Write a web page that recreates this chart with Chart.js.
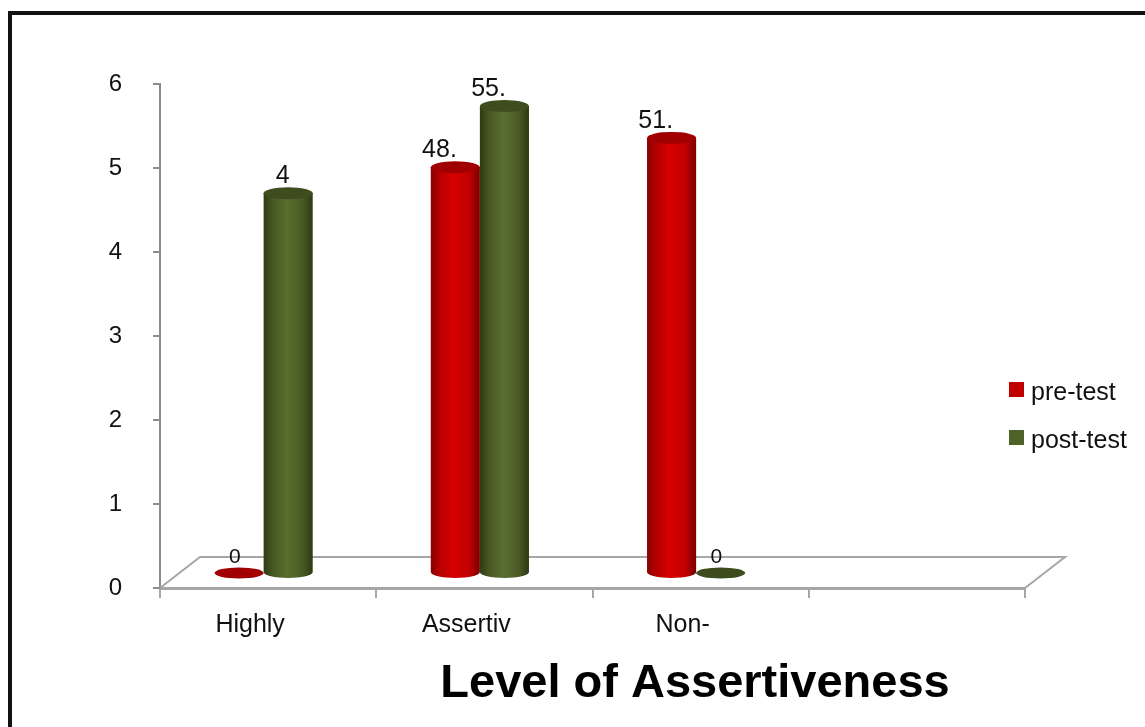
<!DOCTYPE html>
<html>
<head>
<meta charset="utf-8">
<script src="https://cdn.jsdelivr.net/npm/chart.js@4.4.1/dist/chart.umd.min.js"></script>
<style>
	html, body { margin: 0; padding: 0; background: #fff; overflow: hidden; }
	#rahmen { position: absolute; left: 8px; top: 11px; width: 1200px; height: 800px; border: 4px solid #111; }
	#chart { position: absolute; left: 0; top: 0; }
</style>
</head>
<body>
<div id="rahmen"></div>
<canvas id="chart" width="1145" height="727"></canvas>
<script>
// Daten
const categories = ["Highly", "Assertiv", "Non-", ""];
const preTest = [0, 4.83, 5.18, null];
const postTest = [4.52, 5.56, 0, null];
const preLabels = ["0", "48.", "51.", ""];
const postLabels = ["4", "55.", "0", ""];
const seriesNames = ["pre-test", "post-test"];

const FONT = "'Liberation Sans', Arial, sans-serif";

// 3D-Effekt
const TIEFE_X = 40, TIEFE_Y = -31;
const SAEULE_DX = -4.5, SAEULE_DY = -15;

const stile = [
	{ legende: "#c00000", deckel: "#a10000",
	  verlauf: [[0, "#870000"], [0.18, "#b50000"], [0.45, "#d60000"], [0.78, "#c20000"], [1, "#780000"]] },
	{ legende: "#4f6228", deckel: "#3e4d1e",
	  verlauf: [[0, "#2e3a14"], [0.2, "#485a24"], [0.48, "#5a6e30"], [0.8, "#485a24"], [1, "#2c3712"]] }
];

const bodenPlugin = {
	id: "boden",
	beforeDatasetsDraw(chart) {
		const { ctx, chartArea } = chart;
		const y0 = chart.scales.y.getPixelForValue(0);
		ctx.save();
		ctx.strokeStyle = "#a6a6a6";
		ctx.lineWidth = 2;
		ctx.beginPath();
		ctx.moveTo(chartArea.left, y0);
		ctx.lineTo(chartArea.left + TIEFE_X, y0 + TIEFE_Y);
		ctx.lineTo(chartArea.right + TIEFE_X, y0 + TIEFE_Y);
		ctx.lineTo(chartArea.right, y0);
		ctx.stroke();
		ctx.restore();
	}
};

// Zylinder statt flacher Balken
const zylinderPlugin = {
	id: "zylinder",
	afterDatasetsDraw(chart) {
		const ctx = chart.ctx;
		const texte = [preLabels, postLabels];
		ctx.save();
		chart.data.datasets.forEach((ds, i) => {
			const meta = chart.getDatasetMeta(i);
			const stil = stile[i];
			meta.data.forEach((bar, j) => {
				const v = ds.data[j];
				if (v === null || v === undefined) return;
				const p = bar.getProps(["x", "y", "base", "width"], true);
				const cx = p.x + SAEULE_DX;
				const rx = p.width / 2;
				const ry = 6;
				const yTop = p.y + SAEULE_DY;
				const yBase = p.base + SAEULE_DY;

				if (v > 0) {
					const grad = ctx.createLinearGradient(cx - rx, 0, cx + rx, 0);
					stil.verlauf.forEach(s => grad.addColorStop(s[0], s[1]));
					ctx.fillStyle = grad;
					ctx.beginPath();
					ctx.moveTo(cx - rx, yTop);
					ctx.lineTo(cx - rx, yBase);
					ctx.ellipse(cx, yBase, rx, ry, 0, Math.PI, 0, true);
					ctx.lineTo(cx + rx, yTop);
					ctx.closePath();
					ctx.fill();
				}

				ctx.fillStyle = stil.deckel;
				ctx.beginPath();
				ctx.ellipse(cx, v > 0 ? yTop : yBase, rx, v > 0 ? ry : 5.5, 0, 0, Math.PI * 2);
				ctx.fill();

				// Datenbeschriftung
				const text = texte[i][j];
				if (text) {
					ctx.fillStyle = "#111";
					ctx.font = (v > 0 ? 25 : 21) + "px " + FONT;
					ctx.textAlign = "right";
					ctx.textBaseline = "alphabetic";
					ctx.fillText(text, p.x - 3, (v > 0 ? yTop : yBase) - 10);
				}
			});
		});
		ctx.restore();
	},
	afterDraw(chart) {
		const ctx = chart.ctx;
		ctx.save();
		// Legende
		seriesNames.forEach((name, i) => {
			const y = 390 + i * 48;
			ctx.fillStyle = stile[i].legende;
			ctx.fillRect(1009, y - 8, 15, 15);
			ctx.fillStyle = "#111";
			ctx.font = "25px " + FONT;
			ctx.textAlign = "left";
			ctx.textBaseline = "middle";
			ctx.fillText(name, 1031, y + 3);
		});
		// Achsentitel
		ctx.fillStyle = "#000";
		ctx.font = "bold 47px " + FONT;
		ctx.textAlign = "center";
		ctx.textBaseline = "alphabetic";
		ctx.fillText("Level of Assertiveness", 695, 697);
		ctx.restore();
	}
};

new Chart(document.getElementById("chart"), {
	type: "bar",
	data: {
		labels: categories,
		datasets: [
			{ label: seriesNames[0], data: preTest, backgroundColor: "rgba(0,0,0,0)", borderWidth: 0 },
			{ label: seriesNames[1], data: postTest, backgroundColor: "rgba(0,0,0,0)", borderWidth: 0 }
		]
	},
	options: {
		responsive: false,
		animation: false,
		layout: { padding: { left: 0, top: 84, right: 120, bottom: 89 } },
		datasets: { bar: { categoryPercentage: 0.454, barPercentage: 1 } },
		plugins: {
			legend: { display: false },
			tooltip: { enabled: false }
		},
		scales: {
			x: {
				grid: { offset: true, drawOnChartArea: false, tickLength: 10, color: "#a6a6a6", lineWidth: 2 },
				border: { color: "#a6a6a6", width: 3 },
				ticks: { font: { family: FONT, size: 25 }, color: "#111", padding: 12, labelOffset: -18 },
				afterFit: s => { s.height = 50; }
			},
			y: {
				min: 0,
				max: 6,
				ticks: { stepSize: 1, font: { family: FONT, size: 24 }, color: "#111", padding: 31 },
				grid: { drawOnChartArea: false, tickLength: 7, color: "#8c8c8c", lineWidth: 2 },
				border: { color: "#8c8c8c", width: 2 },
				afterFit: s => { s.width = 160; }
			}
		}
	},
	plugins: [bodenPlugin, zylinderPlugin]
});
</script>
</body>
</html>
